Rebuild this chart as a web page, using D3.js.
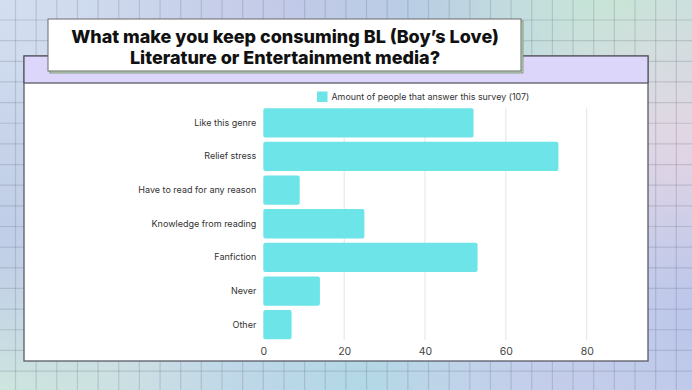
<!DOCTYPE html>
<html>
<head>
<meta charset="utf-8">
<script src="https://cdn.jsdelivr.net/npm/d3@7"></script>
<style>
  body { margin: 0; padding: 0; overflow: hidden; }
  svg { display: block; }
</style>
</head>
<body>
<svg id="chart"></svg>
<script>
var width = 692;
var height = 390;

// data
var categories = ["Like this genre", "Relief stress", "Have to read for any reason",
  "Knowledge from reading", "Fanfiction", "Never", "Other"];
var answers = [52, 73, 9, 25, 53, 14, 7];
var xTicks = [0, 20, 40, 60, 80];
var titleLines = ["What make you keep consuming BL (Boy\u2019s Love)", "Literature or Entertainment media?"];
var legendLabel = "Amount of people that answer this survey (107)";

var data = categories.map(function(c, i) { return { name: c, value: answers[i] }; });

var svg = d3.select("#chart")
  .attr("width", width)
  .attr("height", height);

var defs = svg.append("defs");

// soft pastel background made of a few blurred blobs
var blobs = [
  { cx: 0, cy: 0, r: 260, c: "#d3def0" },
  { cx: 300, cy: 0, r: 220, c: "#c4c9e8" },
  { cx: 430, cy: 10, r: 180, c: "#b7cbe6" },
  { cx: 620, cy: 0, r: 230, c: "#c6e6d5" },
  { cx: 692, cy: 170, r: 200, c: "#e8d6e4" },
  { cx: 692, cy: 330, r: 200, c: "#bac4ea" },
  { cx: 0, cy: 390, r: 260, c: "#cfe9dc" },
  { cx: 360, cy: 390, r: 220, c: "#b2d8e6" },
  { cx: 560, cy: 390, r: 180, c: "#c3cdeb" },
  { cx: 0, cy: 230, r: 180, c: "#c0cde8" }
];
blobs.forEach(function(b, i) {
  var g = defs.append("radialGradient").attr("id", "blob" + i);
  g.append("stop").attr("offset", "0%").attr("stop-color", b.c).attr("stop-opacity", 1);
  g.append("stop").attr("offset", "100%").attr("stop-color", b.c).attr("stop-opacity", 0);
});

svg.append("rect")
  .attr("width", width)
  .attr("height", height)
  .attr("fill", "#c8d6ea");

svg.selectAll(".blob")
  .data(blobs)
  .enter()
  .append("circle")
  .attr("class", "blob")
  .attr("cx", function(d) { return d.cx; })
  .attr("cy", function(d) { return d.cy; })
  .attr("r", function(d) { return d.r; })
  .attr("fill", function(d, i) { return "url(#blob" + i + ")"; });

// background grid
var cell = 20.65;
var grid = svg.append("g").attr("class", "bg-grid")
  .attr("stroke", "rgba(90,100,120,0.22)")
  .attr("stroke-width", 1.2);
for (var gx = 15.5; gx < width; gx += cell) {
  grid.append("line").attr("x1", gx).attr("x2", gx).attr("y1", 0).attr("y2", height);
}
for (var gy = 20; gy < height; gy += cell) {
  grid.append("line").attr("x1", 0).attr("x2", width).attr("y1", gy).attr("y2", gy);
}

// panel
var panel = { x: 24, y: 56, w: 624, h: 305, head: 27 };
svg.append("rect")
  .attr("x", panel.x).attr("y", panel.y)
  .attr("width", panel.w).attr("height", panel.h)
  .attr("fill", "#ffffff")
  .attr("stroke", "#5a5a66")
  .attr("stroke-width", 1.3);
svg.append("rect")
  .attr("x", panel.x).attr("y", panel.y)
  .attr("width", panel.w).attr("height", panel.head)
  .attr("fill", "#dcd6fb")
  .attr("stroke", "#5a5a66")
  .attr("stroke-width", 1.3);

// title card with green shadow
svg.append("rect")
  .attr("x", 50).attr("y", 21)
  .attr("width", 473).attr("height", 52)
  .attr("fill", "#b9dcb4")
  .attr("stroke", "#7a8a7a")
  .attr("stroke-width", 0.8);
svg.append("rect")
  .attr("x", 48).attr("y", 19)
  .attr("width", 473).attr("height", 52)
  .attr("fill", "#ffffff")
  .attr("stroke", "#6a6a6a")
  .attr("stroke-width", 1);

svg.append("g")
  .selectAll("text")
  .data(titleLines)
  .enter()
  .append("text")
  .attr("x", 285)
  .attr("y", function(d, i) { return 43 + i * 21; })
  .attr("text-anchor", "middle")
  .style("font-family", "Inter, 'Open Sans', sans-serif")
  .style("font-weight", "800")
  .style("font-size", "18px")
  .style("letter-spacing", "0px")
  .attr("fill", "#111")
  .text(function(d) { return d; });

// chart
var x = d3.scaleLinear()
  .domain([0, 90])
  .range([263.3, 263.3 + 90 * 4.043]);

var y = d3.scaleBand()
  .domain(categories)
  .range([107.5, 340])
  .paddingInner(0.13)
  .paddingOuter(0.02);

var chart = svg.append("g").attr("class", "plot");

// vertical grid lines
chart.append("g")
  .selectAll("line")
  .data(xTicks.slice(1))
  .enter()
  .append("line")
  .attr("x1", function(d) { return x(d); })
  .attr("x2", function(d) { return x(d); })
  .attr("y1", 107.5)
  .attr("y2", 340)
  .attr("stroke", "#e4e4e8")
  .attr("stroke-width", 1);

// bars
chart.selectAll(".bar")
  .data(data)
  .enter()
  .append("rect")
  .attr("class", "bar")
  .attr("x", x(0))
  .attr("y", function(d) { return y(d.name); })
  .attr("width", function(d) { return x(d.value) - x(0); })
  .attr("height", y.bandwidth())
  .attr("rx", 2)
  .attr("fill", "#6de4e8");

// x axis
var xAxis = chart.append("g")
  .attr("transform", "translate(0,341)")
  .call(d3.axisBottom(x).tickValues(xTicks).tickSize(0).tickPadding(7));
xAxis.select(".domain").remove();
xAxis.selectAll("text")
  .style("font-family", "Inter, 'Open Sans', sans-serif")
  .style("font-size", "10.5px")
  .attr("fill", "#444");

// y axis
var yAxis = chart.append("g")
  .attr("transform", "translate(" + (x(0) - 7) + ",0)")
  .call(d3.axisLeft(y).tickSize(0).tickPadding(0));
yAxis.select(".domain").remove();
yAxis.selectAll("text")
  .style("font-family", "Inter, 'Open Sans', sans-serif")
  .style("font-size", "9px")
  .attr("fill", "#333");

// legend
var legend = svg.append("g").attr("transform", "translate(317,91.5)");
legend.append("rect")
  .attr("width", 10.5)
  .attr("height", 10.5)
  .attr("fill", "#6de4e8");
legend.append("text")
  .attr("x", 14.5)
  .attr("y", 5.5)
  .attr("dy", "0.35em")
  .style("font-family", "Inter, 'Open Sans', sans-serif")
  .style("font-size", "8.9px")
  .attr("fill", "#333")
  .text(legendLabel);
</script>
</body>
</html>
